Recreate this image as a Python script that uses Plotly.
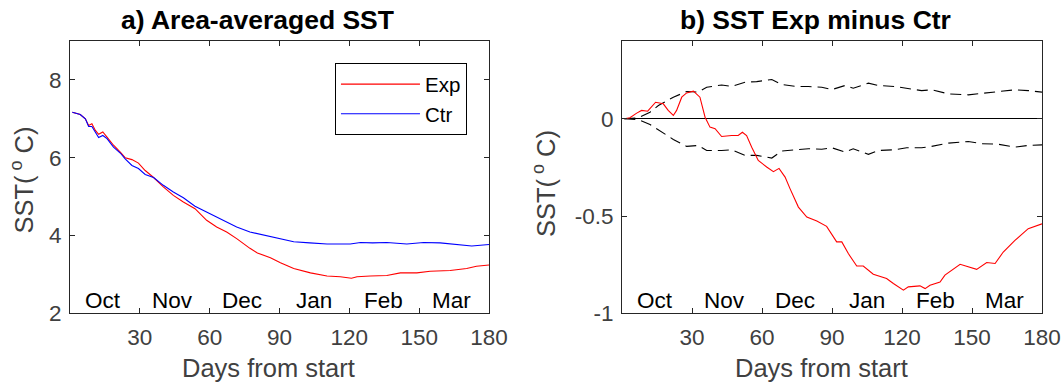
import plotly.graph_objects as go

# ---------------- data ----------------
# Panel a: area-averaged SST (deg C)
days_a_exp = [1, 4.4, 6.6, 8, 9.4, 10.9, 12.3, 14.1, 15.9, 18.7, 21.6, 23.7, 26.6, 29.4, 32.3,
              35.9, 40.1, 44.4, 48.7, 53.7, 58.7, 63, 67.3, 71.6, 77.3, 80.5, 86.1, 90.4, 96.1,
              103.3, 110.4, 116.1, 120.9, 123.3, 129, 136.1, 141.9, 149, 154.7, 163.3, 170.4,
              174.6, 180]
sst_exp = [7.17, 7.11, 7.0, 6.83, 6.87, 6.7, 6.6, 6.66, 6.53, 6.32, 6.14, 6.0, 5.95, 5.86, 5.67,
           5.49, 5.25, 5.03, 4.86, 4.69, 4.39, 4.22, 4.09, 3.92, 3.67, 3.55, 3.43, 3.3, 3.15,
           3.04, 2.96, 2.94, 2.9, 2.94, 2.96, 2.97, 3.04, 3.04, 3.08, 3.1, 3.15, 3.21, 3.24]

days_a_ctr = [1, 4.4, 6.6, 8, 9.4, 10.9, 12.3, 14.1, 15.9, 18.7, 21.6, 23.7, 26.6, 29.4, 32.3,
              35.9, 40.1, 44.4, 48.7, 53.7, 58.7, 63, 67.3, 71.6, 77.3, 84.4, 88, 91.9, 96.1,
              103, 110.4, 120.4, 124.8, 130, 136.1, 144.7, 151.9, 159, 164.7, 172.6, 180]
sst_ctr = [7.17, 7.11, 7.0, 6.8, 6.8, 6.66, 6.52, 6.57, 6.49, 6.27, 6.12, 5.97, 5.8, 5.72, 5.57,
           5.49, 5.29, 5.12, 4.97, 4.75, 4.6, 4.48, 4.35, 4.22, 4.09, 4.0, 3.94, 3.9, 3.84,
           3.81, 3.78, 3.78, 3.82, 3.81, 3.82, 3.78, 3.82, 3.81, 3.77, 3.73, 3.77]

# Panel b: SST difference Exp minus Ctr
days_b = [1, 3.4, 6.3, 8.4, 11.0, 12.7, 14.4, 17.7, 19.8, 22.0, 23.4, 25.6, 27.7, 30.6, 33.4,
          35.6, 37.7, 39.9, 42.7, 47.0, 49.8, 51.6, 53.4, 55.6, 58.4, 62.0, 64.9, 67.3, 69.9,
          72.0, 75.6, 79.2, 83.5, 87.7, 92.0, 94.2, 97.0, 100.6, 103.4, 107.7, 113.4, 116.3,
          120.6, 122.7, 127.7, 129.9, 132.0, 136.3, 138.4, 144.9, 152.0, 156.3, 159.9, 163.4,
          168.4, 174.1, 180]
sst_diff = [0, 0.005, 0.029, 0.043, 0.039, 0.063, 0.085, 0.077, 0.043, 0.017, 0.043, 0.111,
            0.133, 0.142, 0.111, 0.008, -0.043, -0.051, -0.091, -0.086, -0.086, -0.069, -0.086,
            -0.146, -0.214, -0.248, -0.272, -0.255, -0.3, -0.359, -0.454, -0.505, -0.526,
            -0.553, -0.633, -0.633, -0.693, -0.757, -0.757, -0.799, -0.821, -0.847, -0.881,
            -0.864, -0.859, -0.873, -0.856, -0.839, -0.804, -0.748, -0.774, -0.739, -0.744,
            -0.685, -0.625, -0.565, -0.54]

days_ci = [1, 7, 12, 15.6, 22, 27.7, 32.7, 36.3, 42.7, 47, 52.7, 57.7, 64.2, 68.4, 74.9, 79.9,
           85.6, 89.9, 95.6, 99.1, 105.6, 109.9, 117, 122, 128.4, 132.7, 139.9, 148.4, 154.2,
           161.3, 168.4, 174.1, 180]
ci_upper = [0, 0.005, 0.034, 0.068, 0.111, 0.14, 0.137, 0.162, 0.174, 0.166, 0.188, 0.191,
            0.202, 0.176, 0.166, 0.166, 0.162, 0.15, 0.171, 0.157, 0.183, 0.171, 0.166, 0.157,
            0.145, 0.149, 0.128, 0.123, 0.131, 0.137, 0.149, 0.145, 0.137]
ci_lower = [0, -0.005, -0.029, -0.057, -0.106, -0.142, -0.137, -0.163, -0.163, -0.159, -0.188,
            -0.188, -0.202, -0.166, -0.159, -0.154, -0.157, -0.149, -0.171, -0.154, -0.183,
            -0.163, -0.159, -0.149, -0.149, -0.142, -0.125, -0.117, -0.128, -0.131, -0.146,
            -0.137, -0.134]

x_tickvals = [30, 60, 90, 120, 150, 180]
x_ticktext = ["30", "60", "90", "120", "150", "180"]
ya_tickvals = [2, 4, 6, 8]
ya_ticktext = ["2", "4", "6", "8"]
yb_tickvals = [-1, -0.5, 0]
yb_ticktext = ["-1", "-0.5", "0"]

months = ["Oct", "Nov", "Dec", "Jan", "Feb", "Mar"]
month_pos = [14, 44, 74, 105, 134.5, 164]

titles = ["a) Area-averaged SST", "b) SST Exp minus Ctr"]
xlabel = "Days from start"
ylabel = "SST(<sup> o</sup> C)"

# ---------------- figure ----------------
FONT = "Liberation Sans, Arial, Helvetica, sans-serif"
AX = "#262626"
TXT = "#404040"

fig = go.Figure()
fig.add_trace(go.Scatter(x=days_a_exp, y=sst_exp, mode="lines", name="Exp",
                         line=dict(color="#ff0000", width=1.1), legendgroup="e",
                         xaxis="x", yaxis="y"))
fig.add_trace(go.Scatter(x=days_a_ctr, y=sst_ctr, mode="lines", name="Ctr",
                         line=dict(color="#0000ff", width=1.1), legendgroup="c",
                         xaxis="x", yaxis="y"))
fig.add_trace(go.Scatter(x=days_ci, y=ci_upper, mode="lines", showlegend=False,
                         line=dict(color="black", width=1.1, dash="11px,6px"),
                         xaxis="x2", yaxis="y2"))
fig.add_trace(go.Scatter(x=days_ci, y=ci_lower, mode="lines", showlegend=False,
                         line=dict(color="black", width=1.1, dash="11px,6px"),
                         xaxis="x2", yaxis="y2"))
fig.add_trace(go.Scatter(x=days_b, y=sst_diff, mode="lines", showlegend=False,
                         line=dict(color="#ff0000", width=1.1),
                         xaxis="x2", yaxis="y2"))

common_x = dict(range=[0, 180], tickvals=x_tickvals, ticktext=x_ticktext,
                ticks="inside", ticklen=5, tickcolor=AX, showline=True, linecolor=AX,
                linewidth=1, mirror="ticks", showgrid=False, zeroline=False, automargin=False,
                tickfont=dict(family=FONT, size=22.5, color=TXT), ticklabelstandoff=4)
common_y = dict(ticks="inside", ticklen=5, tickcolor=AX, showline=True, linecolor=AX,
                linewidth=1, mirror="ticks", showgrid=False, automargin=False,
                tickfont=dict(family=FONT, size=22.5, color=TXT), ticklabelstandoff=3)

ydom = [0.182, 0.893]
fig.update_layout(
    width=1061, height=383,
    margin=dict(l=0, r=0, t=0, b=0, autoexpand=False),
    paper_bgcolor="white", plot_bgcolor="white",
    font=dict(family=FONT, color="black"),
    xaxis=dict(domain=[0.06598, 0.46089], anchor="y", **common_x),
    yaxis=dict(domain=ydom, anchor="x", range=[2, 9], tickvals=ya_tickvals,
               ticktext=ya_ticktext, zeroline=False, **common_y),
    xaxis2=dict(domain=[0.58624, 0.98209], anchor="y2", **common_x),
    yaxis2=dict(domain=ydom, anchor="x2", range=[-1, 0.4], tickvals=yb_tickvals,
                ticktext=yb_ticktext, zeroline=True, zerolinecolor="black",
                zerolinewidth=1, **common_y),
    showlegend=True,
    legend=dict(x=0.3157, y=0.8347, xanchor="left", yanchor="top",
                bgcolor="white", bordercolor="black", borderwidth=1,
                font=dict(family=FONT, size=20.5, color="black"),
                itemwidth=79, tracegroupgap=3, traceorder="normal"),
)

ann = []
for xc, t in zip([0.2427, 0.7686], titles):
    ann.append(dict(text="<b>" + t + "</b>", x=xc, y=0.948, xref="paper", yref="paper",
                    xanchor="center", yanchor="middle", showarrow=False,
                    font=dict(family=FONT, size=26.5, color="black")))
for xc in [0.2526, 0.7738]:
    ann.append(dict(text=xlabel, x=xc, y=0.039, xref="paper", yref="paper",
                    xanchor="center", yanchor="middle", showarrow=False,
                    font=dict(family=FONT, size=25.5, color=TXT)))
for xc, yc in [(0.0212, 0.530), (0.5127, 0.522)]:
    ann.append(dict(text=ylabel, x=xc, y=yc, xref="paper", yref="paper",
                    xanchor="center", yanchor="middle", textangle=-90, showarrow=False,
                    font=dict(family=FONT, size=25.5, color=TXT)))
for xr in ["x", "x2"]:
    for m, p in zip(months, month_pos):
        ann.append(dict(text=m, x=p, y=0.2167, xref=xr, yref="paper",
                        xanchor="center", yanchor="middle", showarrow=False,
                        font=dict(family=FONT, size=22.5, color="black")))
fig.update_layout(annotations=ann)

fig.write_html("out.html")
